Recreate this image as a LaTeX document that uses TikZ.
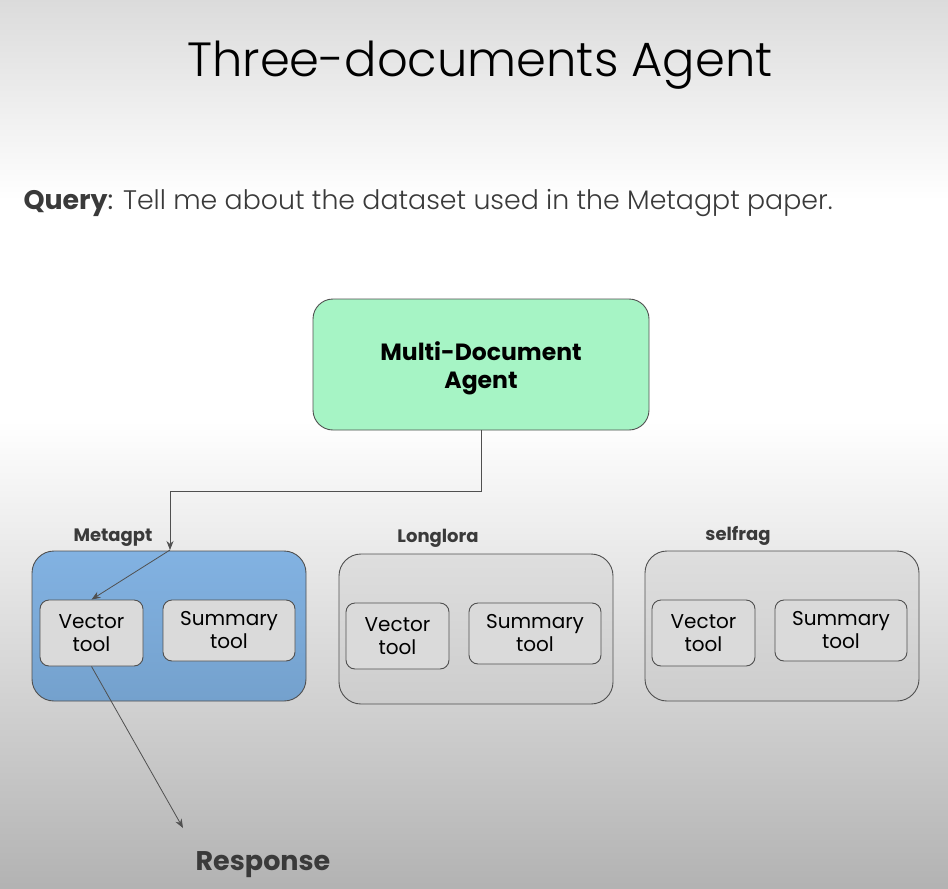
\documentclass[tikz,border=0pt]{standalone}
\usepackage{fontspec}
\setmainfont{Poppins}
\newfontfamily\lightfont{Poppins Light}
\usetikzlibrary{positioning,arrows.meta}

\definecolor{agentgreen}{HTML}{A6F4C5}
\definecolor{edgegray}{HTML}{505050}
\definecolor{txtgray}{HTML}{3A3A3A}
\definecolor{blueTop}{HTML}{82B2E2}
\definecolor{blueBot}{HTML}{74A1CD}
\definecolor{grayTop}{HTML}{DEDEDE}
\definecolor{grayBot}{HTML}{CDCDCD}
\definecolor{toolgray}{HTML}{DADADA}

\tikzset{
  agentbox/.style={draw=edgegray, line width=0.9pt, fill=agentgreen, rounded corners=20pt,
    minimum width=336pt, minimum height=131pt},
  agenttext/.style={align=center, font=\fontsize{23.5}{28}\selectfont\bfseries},
  groupbox/.style={draw=edgegray, line width=0.9pt, rounded corners=22pt,
    minimum width=274pt, minimum height=150pt, top color=grayTop, bottom color=grayBot},
  bluegroup/.style={groupbox, top color=blueTop, bottom color=blueBot},
  toolbox/.style={draw=edgegray, line width=0.9pt, fill=toolgray, rounded corners=9pt,
    align=center, inner sep=0pt, font=\fontsize{20}{23}\selectfont},
  grouplabel/.style={text=txtgray, font=\fontsize{18}{20}\selectfont\bfseries},
  link/.style={draw=edgegray, line width=0.8pt, -{Stealth[length=9pt,width=7pt]}}
}

\begin{document}
\begin{tikzpicture}[x=1pt, y=-1pt]
      % background
      \useasboundingbox (0,0) rectangle (948,889);
      \shade[top color=black!14, bottom color=white] (0,0) rectangle (948,200);
      \fill[white] (0,199) rectangle (948,421);
      \shade[top color=white, bottom color=black!30] (0,420) rectangle (948,889);

      % heading and query
      \node (title) at (480,65) {\fontsize{48}{58}\selectfont\lightfont Three-documents Agent};
      \node[anchor=west, text=txtgray] (query) at (20,203)
            {\fontsize{26.8}{32}\selectfont\textbf{Query}:\lightfont{} Tell me about the dataset used in the Metagpt paper.};

      % agent
      \node[agentbox] (agent) at (481,364.5) {};
      \node[agenttext] (agenttxt) at (481,368) {Multi-Document\\Agent};

      % document groups
      \node[bluegroup] (mgrp) at (169,626) {};
      \node[groupbox]  (lgrp) at (476,629) {};
      \node[groupbox]  (sgrp) at (782,626) {};
      \node[grouplabel] (mlab) at (113,538) {Metagpt};
      \node[grouplabel] (llab) at (438,538) {Longlora};
      \node[grouplabel] (slab) at (738,536) {selfrag};

      % tools
      \node[toolbox, minimum width=103pt, minimum height=66pt] (mvec) at (91.5,633) {Vector\\tool};
      \node[toolbox, minimum width=132pt, minimum height=61pt] (msum) at (229,630.5) {Summary\\tool};
      \node[toolbox, minimum width=103pt, minimum height=66pt] (lvec) at (397.5,636) {Vector\\tool};
      \node[toolbox, minimum width=132pt, minimum height=61pt] (lsum) at (535,633.5) {Summary\\tool};
      \node[toolbox, minimum width=103pt, minimum height=66pt] (svec) at (703.5,633) {Vector\\tool};
      \node[toolbox, minimum width=132pt, minimum height=61pt] (ssum) at (841,630.5) {Summary\\tool};

      % response
      \node[text=txtgray, font=\fontsize{27}{30}\selectfont\bfseries] (resp) at (263,865) {Response};
      \coordinate (hit) at (170,550);
      \coordinate (respin) at (183,828);

      % connectors
      \draw[link] (agent.south) -- ++(0,61) -| (hit);
      \draw[link] (hit) -- (mvec.north);
      \draw[link] (mvec.south) -- (respin);
\end{tikzpicture}
\end{document}
